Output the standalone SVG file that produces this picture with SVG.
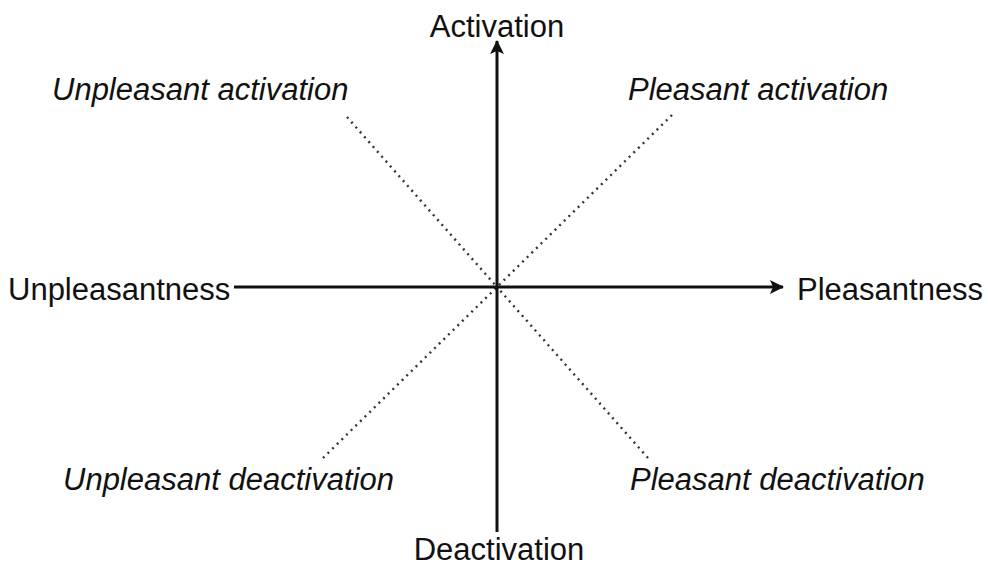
<svg xmlns="http://www.w3.org/2000/svg" width="988" height="568" viewBox="0 0 988 568">
<style>
text{font-family:"Liberation Sans",Arial,sans-serif;font-size:31px;fill:#111}
.it{font-style:italic}
.axis{stroke:#111;stroke-width:3;fill:none}
.dot{stroke:#333;stroke-width:2.4;stroke-dasharray:2 4.5;fill:none}
</style>
<defs>
<marker id="ah" viewBox="0 0 14 14" refX="13" refY="7" markerWidth="14" markerHeight="14" markerUnits="userSpaceOnUse" orient="auto">
<path d="M0,0 L14,7 L0,14 L3,7 Z" fill="#111"/>
</marker>
</defs>
<g id="connectors">
<line class="dot" x1="347" y1="117" x2="497" y2="287"/>
<line class="dot" x1="672" y1="115" x2="497" y2="287"/>
<line class="dot" x1="323" y1="458" x2="497" y2="287"/>
<line class="dot" x1="648" y1="458" x2="497" y2="287"/>
<line class="axis" x1="497" y1="532" x2="497" y2="41" marker-end="url(#ah)"/>
<line class="axis" x1="234" y1="287" x2="783" y2="287" marker-end="url(#ah)"/>
</g>
<g id="activation"><text x="497" y="37" text-anchor="middle">Activation</text></g>
<g id="deactivation"><text x="499" y="560" text-anchor="middle">Deactivation</text></g>
<g id="unpleasantness"><text x="8" y="300">Unpleasantness</text></g>
<g id="pleasantness"><text x="797" y="300">Pleasantness</text></g>
<g id="unpleasant-activation"><text class="it" x="52" y="100">Unpleasant activation</text></g>
<g id="pleasant-activation"><text class="it" x="628" y="100">Pleasant activation</text></g>
<g id="unpleasant-deactivation"><text class="it" x="63" y="490">Unpleasant deactivation</text></g>
<g id="pleasant-deactivation"><text class="it" x="630" y="490">Pleasant deactivation</text></g>
</svg>
